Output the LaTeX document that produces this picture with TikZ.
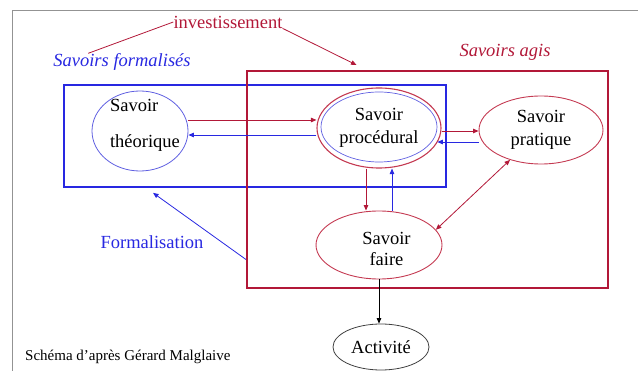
\documentclass[tikz,border=0pt]{standalone}
\usepackage{fontspec}
\setmainfont{Liberation Serif}
\usetikzlibrary{arrows.meta,shapes.geometric}
\definecolor{dred}{RGB}{178,24,56}
\definecolor{lred}{RGB}{196,58,82}
\definecolor{dblue}{RGB}{40,40,225}
\definecolor{lblue}{RGB}{95,95,225}
% zero-size text block: #1 raise, #2 extra left space, #3 column spec, #4 content
\newcommand{\zbox}[4]{\raisebox{#1}[0pt][0pt]{\makebox[0pt]{\hspace*{#2}\begin{tabular}{@{}#3@{}}#4\end{tabular}}}}
\begin{document}
\begin{tikzpicture}[x=1pt,y=-1pt,
  font=\fontsize{18.5}{23}\selectfont,
  ell/.style={ellipse, draw, inner sep=0pt, align=center},
  box/.style={rectangle, draw, inner sep=0pt},
  txt/.style={inner sep=0pt},
  tip/.style={-{Triangle[length=5.5pt,width=4.5pt]}, line width=0.8pt},
  dtip/.style={{Triangle[length=5.5pt,width=4.5pt]}-{Triangle[length=5.5pt,width=4.5pt]}, line width=0.8pt}]
\useasboundingbox (0,0) rectangle (638,371);
% frame
\draw[gray!85, line width=1pt] (12,371) -- (12,11) -- (638,11);
% boxes
\node[box, dblue, line width=1.7pt, minimum width=382pt, minimum height=102pt] (form) at (255,136) {};
\node[box, dred, line width=2pt, minimum width=361pt, minimum height=217pt] (agis) at (427.5,179.5) {};
% titles
\node[txt, dblue, font=\fontsize{18.5}{23}\selectfont\itshape] (sf) at (122,62) {Savoirs formalisés};
\node[txt, dred, font=\fontsize{18.5}{23}\selectfont\itshape] (sa) at (505,52) {Savoirs agis};
\node[txt, dred] (inv) at (228,22) {investissement};
\node[txt, dblue] (fl) at (152,242) {Formalisation};
\node[txt, anchor=west, font=\fontsize{15}{18}\selectfont] (src) at (25,357) {Schéma d’après Gérard Malglaive};
% ellipses
\node[ell, lblue, text=black, line width=0.8pt, minimum width=96pt, minimum height=80pt] (theo) at (140,131) {\zbox{1.4pt}{10pt}{l}{Savoir\\[13pt]théorique}};
\node[ell, lred, text=black, line width=1.1pt, minimum width=124pt, minimum height=80pt] (proc) at (379,128) {Savoir\\procédural};
\node[ell, lblue, line width=0.7pt, minimum width=116pt, minimum height=70pt] (procin) at (379,127) {};
\node[ell, lred, text=black, line width=0.9pt, minimum width=124pt, minimum height=68pt] (prat) at (541,130) {Savoir\\pratique};
\node[ell, lred, text=black, line width=0.9pt, minimum width=126pt, minimum height=68pt] (faire) at (379,245) {\zbox{-10pt}{15pt}{c}{Savoir\\[-2pt]faire}};
\node[ell, black!75, text=black, line width=0.8pt, minimum width=96pt, minimum height=46pt] (act) at (381,347) {Activité};
% investissement lines
\draw[dred, line width=0.8pt] ([xshift=35pt]sf.north west) -- (inv.west);
\draw[dred, tip] (inv.south east) -- ([xshift=-71pt,yshift=5pt]agis.north);
% connectors
\draw[dred, tip] ([yshift=11pt]theo.east) -- ([yshift=11pt]theo.east -| proc.west);
\draw[dblue, tip] ([yshift=-7pt]proc.west) -- ([yshift=-7pt]proc.west -| theo.east);
\draw[dred, tip] ([yshift=-3pt]proc.east) -- ([yshift=-3pt]proc.east -| prat.west);
\draw[dblue, tip] ([yshift=-12pt]prat.west) -- ([yshift=-12pt]prat.west -| procin.east);
\draw[dred, tip] ([xshift=-13pt]proc.south) -- ([xshift=-13pt]proc.south |- faire.north);
\draw[dblue, tip] ([xshift=13pt]faire.north) -- ([xshift=13pt]faire.north |- proc.south);
\draw[dred, dtip] (prat.224) -- (faire.15);
\draw[black, tip] (faire.south) -- (faire.south |- act.north);
\draw[dblue, tip] ([yshift=-80pt]agis.west) -- ([xshift=-102pt,yshift=-5pt]form.south);
\end{tikzpicture}
\end{document}
